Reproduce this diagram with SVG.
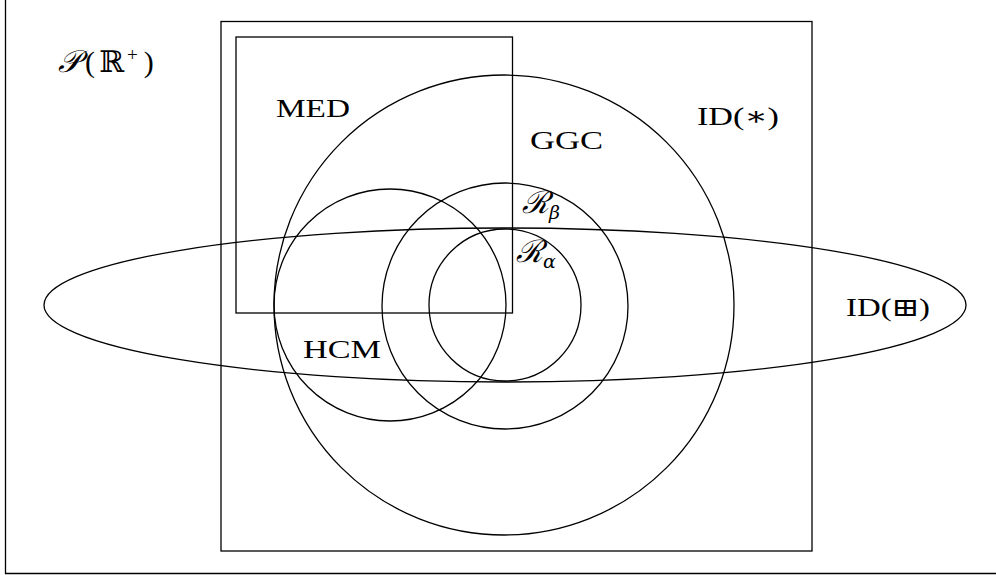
<svg xmlns="http://www.w3.org/2000/svg" width="996" height="575" viewBox="0 0 996 575">
<style>
.s{fill:none;stroke:#000;stroke-width:1.3}
.t{font-family:"Liberation Serif","DejaVu Serif",serif;font-size:26px;fill:#000}
.m{font-family:"DejaVu Serif","Liberation Serif",serif;font-style:italic}
</style>
<rect width="996" height="575" fill="#fff"/>
<g id="frame"><path class="s" d="M5.5,0 V573.5 H996"/></g>
<g id="ID-star"><rect class="s" x="221" y="21.5" width="591" height="529.5"/><text class="t" x="697" y="125" textLength="82" lengthAdjust="spacingAndGlyphs">ID(∗)</text></g>
<g id="MED"><rect class="s" x="236" y="37" width="276.5" height="276"/><text class="t" x="276" y="117" textLength="74" lengthAdjust="spacingAndGlyphs">MED</text></g>
<g id="GGC"><circle class="s" cx="504" cy="305" r="230"/><text class="t" x="530" y="149" textLength="73" lengthAdjust="spacingAndGlyphs">GGC</text></g>
<g id="IDbox"><ellipse class="s" cx="505" cy="305" rx="461" ry="77"/><text class="t" x="846" y="316" textLength="84" lengthAdjust="spacingAndGlyphs">ID(⊞)</text></g>
<g id="HCM"><circle class="s" cx="390" cy="305" r="116"/><text class="t" x="303" y="358" textLength="78" lengthAdjust="spacingAndGlyphs">HCM</text></g>
<g id="Rbeta"><circle class="s" cx="505" cy="306" r="123"/><text class="t" x="522" y="213"><tspan class="m" font-size="31">ℛ</tspan><tspan class="m" font-size="19" dy="6">β</tspan></text></g>
<g id="Ralpha"><circle class="s" cx="505" cy="305" r="76"/><text class="t" x="516" y="262"><tspan class="m" font-size="31">ℛ</tspan><tspan class="m" font-size="19" dy="6">α</tspan></text></g>
<g id="P"><text class="t" x="58" y="72" style="font-size:30px"><tspan class="m" font-size="31">𝒫</tspan><tspan dx="5">(</tspan><tspan dx="4">ℝ</tspan><tspan font-size="19" dx="3" dy="-11">+</tspan><tspan dx="6" dy="11">)</tspan></text></g>
</svg>
